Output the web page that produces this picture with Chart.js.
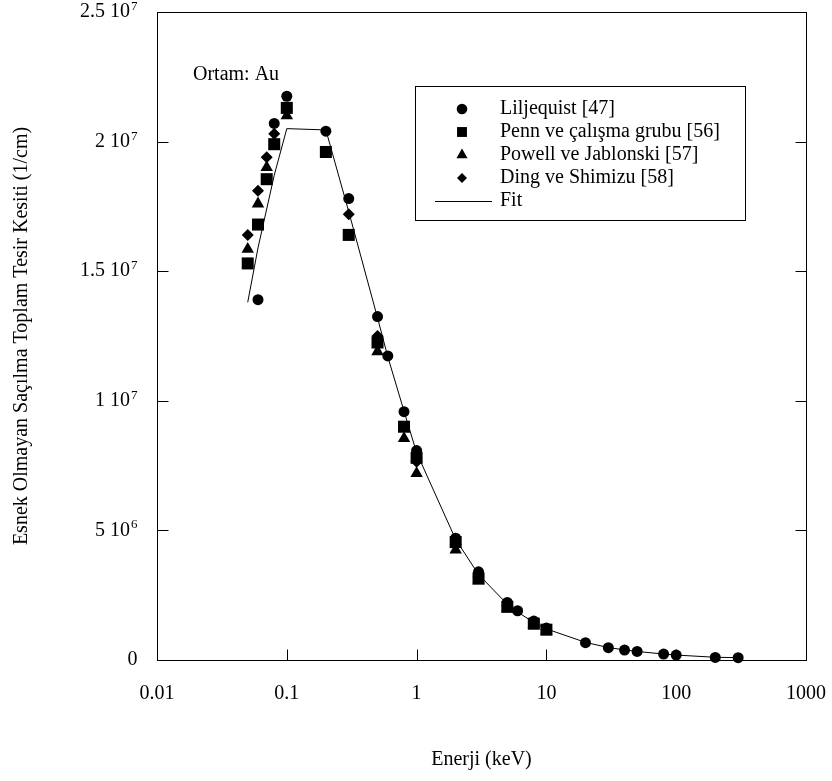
<!DOCTYPE html>
<html lang="tr">
<head>
  <meta charset="UTF-8">
  <title>Esnek Olmayan Saçılma Toplam Tesir Kesiti - Au</title>
  <style>
    html, body { margin: 0; padding: 0; background: #fff; }
    #wrap { width: 832px; height: 781px; }
  </style>
  <script src="https://cdn.jsdelivr.net/npm/chart.js"></script>
</head>
<body>
  <div id="wrap"><canvas id="chart" width="832" height="781"></canvas></div>
  <script>
    // enerji (keV) ve tesir kesiti (1/cm)
    const liljeE = [0.06, 0.08, 0.1, 0.2, 0.3, 0.5, 0.6, 0.8, 1, 2, 3, 5, 6, 8, 10, 20, 30, 40, 50, 80, 100, 200, 300];
    const liljeS = [1.39e7, 2.07e7, 2.175e7, 2.04e7, 1.78e7, 1.325e7, 1.173e7, 9.58e6, 8.08e6, 4.7e6, 3.4e6, 2.22e6, 1.9e6, 1.5e6, 1.23e6, 6.7e5, 4.75e5, 3.85e5, 3.3e5, 2.3e5, 1.9e5, 1.0e5, 9.0e4];

    const pennE = [0.05, 0.06, 0.07, 0.08, 0.1, 0.2, 0.3, 0.5, 0.8, 1, 2, 3, 5, 8, 10];
    const pennS = [1.53e7, 1.68e7, 1.855e7, 1.99e7, 2.13e7, 1.96e7, 1.64e7, 1.225e7, 9.0e6, 7.8e6, 4.55e6, 3.15e6, 2.05e6, 1.4e6, 1.17e6];

    const powellE = [0.05, 0.06, 0.07, 0.1, 0.5, 0.8, 1, 2, 3, 5, 8, 10];
    const powellS = [1.585e7, 1.76e7, 1.9e7, 2.10e7, 1.19e7, 8.55e6, 7.2e6, 4.25e6, 3.05e6, 2.0e6, 1.38e6, 1.12e6];

    const dingE = [0.05, 0.06, 0.07, 0.08, 0.1, 0.3, 0.5, 1, 2, 3, 5, 8, 10];
    const dingS = [1.64e7, 1.81e7, 1.94e7, 2.03e7, 2.12e7, 1.72e7, 1.25e7, 7.65e6, 4.45e6, 3.2e6, 2.1e6, 1.45e6, 1.18e6];

    const fitE = [0.05, 0.06, 0.07, 0.08, 0.1, 0.2, 0.3, 0.5, 0.6, 0.8, 1, 2, 3, 5, 6, 8, 10, 20, 30, 40, 50, 80, 100, 200, 300];
    const fitS = [1.38e7, 1.59e7, 1.74e7, 1.87e7, 2.05e7, 2.045e7, 1.73e7, 1.32e7, 1.17e7, 9.6e6, 8.0e6, 4.65e6, 3.3e6, 2.15e6, 1.85e6, 1.45e6, 1.2e6, 6.8e5, 4.8e5, 3.9e5, 3.3e5, 2.3e5, 1.9e5, 1.05e5, 9.0e4];

    const seriesNames = ['Liljequist [47]', 'Penn ve çalışma grubu [56]', 'Powell ve Jablonski [57]', 'Ding ve Shimizu [58]', 'Fit'];

    const xTicks = [0.01, 0.1, 1, 10, 100, 1000];
    const xTickLabels = ['0.01', '0.1', '1', '10', '100', '1000'];
    const yTicks = [0, 5e6, 1e7, 1.5e7, 2e7, 2.5e7];
    const yTickMant = ['0', '5', '1', '1.5', '2', '2.5'];
    const yTickExp = ['', '6', '7', '7', '7', '7'];

    const FONT = '"Liberation Serif", "Times New Roman", serif';

    function pts(xs, ys) {
      return xs.map((v, i) => ({ x: v, y: ys[i] }));
    }

    function markerSet(label, xs, ys, style, r) {
      return {
        label: label,
        data: pts(xs, ys),
        showLine: false,
        pointStyle: style,
        pointRadius: r,
        pointBackgroundColor: '#000',
        pointBorderWidth: 0,
        clip: false
      };
    }

    // eksen kutusu, içe dönük çentikler, etiketler ve lejant
    const frame = {
      id: 'frame',
      afterDraw(chart) {
        const { ctx, chartArea: a, scales: { x, y } } = chart;
        const L = Math.round(a.left) + 0.5, T = Math.round(a.top) + 0.5;
        const R = Math.round(a.right) + 0.5, B = Math.round(a.bottom) + 0.5;
        ctx.save();
        ctx.strokeStyle = '#000';
        ctx.fillStyle = '#000';
        ctx.lineWidth = 1;
        ctx.strokeRect(L, T, R - L, B - T);

        ctx.beginPath();
        xTicks.forEach(v => {
          const px = Math.round(x.getPixelForValue(v)) + 0.5;
          ctx.moveTo(px, B); ctx.lineTo(px, B - 11);
        });
        yTicks.forEach(v => {
          const py = Math.round(y.getPixelForValue(v)) + 0.5;
          ctx.moveTo(L, py); ctx.lineTo(L + 11, py);
          ctx.moveTo(R, py); ctx.lineTo(R - 11, py);
        });
        ctx.stroke();

        // x etiketleri
        ctx.font = '20px ' + FONT;
        ctx.textAlign = 'center';
        ctx.textBaseline = 'alphabetic';
        xTicks.forEach((v, i) => {
          ctx.fillText(xTickLabels[i], x.getPixelForValue(v), B + 38);
        });

        // y etiketleri (üslü)
        const rightEdge = L - 20;
        yTicks.forEach((v, i) => {
          const py = y.getPixelForValue(v);
          ctx.font = '13px ' + FONT;
          const ew = yTickExp[i] ? ctx.measureText(yTickExp[i]).width : 0;
          if (yTickExp[i]) {
            ctx.textAlign = 'left';
            ctx.textBaseline = 'alphabetic';
            ctx.fillText(yTickExp[i], rightEdge - ew, py - 2);
          }
          ctx.font = '20px ' + FONT;
          ctx.textAlign = 'right';
          ctx.textBaseline = 'middle';
          const mant = yTickExp[i] ? yTickMant[i] + ' 10' : yTickMant[i];
          ctx.fillText(mant, rightEdge - ew - (ew ? 1 : 0), py);
        });

        // eksen başlıkları
        ctx.font = '20px ' + FONT;
        ctx.textAlign = 'center';
        ctx.textBaseline = 'alphabetic';
        ctx.fillText('Enerji (keV)', (a.left + a.right) / 2, 765);
        ctx.save();
        ctx.translate(22, (a.top + a.bottom) / 2);
        ctx.rotate(-Math.PI / 2);
        ctx.textBaseline = 'middle';
        ctx.fillText('Esnek Olmayan Saçılma Toplam Tesir Kesiti (1/cm)', 0, 0);
        ctx.restore();

        ctx.textAlign = 'left';
        ctx.textBaseline = 'alphabetic';
        ctx.fillText('Ortam: Au', 193, 80);

        // lejant
        ctx.strokeRect(415.5, 86.5, 330, 134);
        const styles = [['circle', 5.3], ['rect', 7], ['triangle', 6.4], ['rectRot', 5]];
        const rows = [109, 132, 155, 178, 201];
        ctx.textBaseline = 'middle';
        styles.forEach((s, i) => {
          Chart.helpers.drawPoint(ctx, { pointStyle: s[0], radius: s[1], rotation: 0, borderWidth: 0 }, 462, rows[i]);
        });
        ctx.beginPath();
        ctx.moveTo(435, rows[4] + 0.5); ctx.lineTo(492, rows[4] + 0.5);
        ctx.stroke();
        seriesNames.forEach((n, i) => ctx.fillText(n, 500, rows[i]));
        ctx.restore();
      }
    };

    new Chart(document.getElementById('chart'), {
      type: 'scatter',
      data: {
        datasets: [
          {
            label: 'Fit',
            data: pts(fitE, fitS),
            showLine: true,
            borderColor: '#000',
            borderWidth: 1,
            pointRadius: 0,
            tension: 0,
            clip: false
          },
          markerSet('Liljequist [47]', liljeE, liljeS, 'circle', 5.5),
          markerSet('Penn ve çalışma grubu [56]', pennE, pennS, 'rect', 8.5),
          markerSet('Powell ve Jablonski [57]', powellE, powellS, 'triangle', 7.2),
          markerSet('Ding ve Shimizu [58]', dingE, dingS, 'rectRot', 6)
        ]
      },
      options: {
        responsive: false,
        animation: false,
        layout: { padding: { left: 157, right: 26, top: 12, bottom: 121 } },
        plugins: {
          legend: { display: false },
          tooltip: { enabled: false }
        },
        scales: {
          x: { type: 'logarithmic', min: 0.01, max: 1000, display: false },
          y: { type: 'linear', min: 0, max: 2.5e7, display: false }
        }
      },
      plugins: [frame]
    });
  </script>
</body>
</html>
